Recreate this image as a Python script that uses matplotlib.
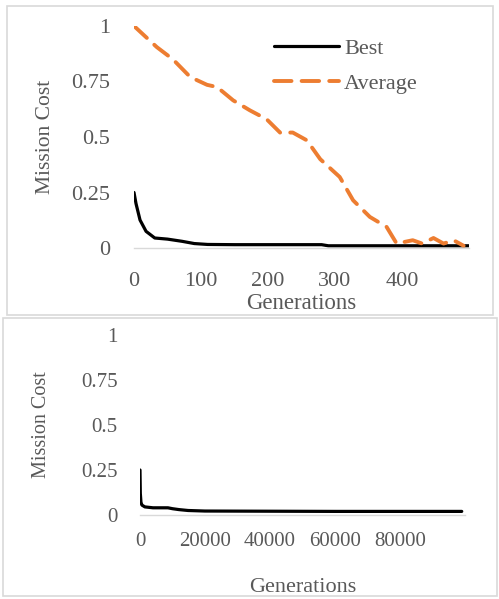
import matplotlib.pyplot as plt
from matplotlib.patches import Rectangle

plt.rcParams['font.family'] = ['Liberation Serif', 'DejaVu Serif']

# top panel: first 500 generations
gen_best = [0, 3, 9, 18, 31, 50, 72, 90, 110, 150, 200, 280, 290, 400, 500]
best = [0.25, 0.20, 0.126, 0.075, 0.045, 0.04, 0.03, 0.02, 0.016, 0.015, 0.015, 0.015, 0.01, 0.01, 0.01]

gen_avg = [0, 34, 58, 84, 109, 124, 148, 173, 198, 218, 237, 258, 278, 307, 327,
           352, 377, 392, 416, 430, 447, 462, 477, 492]
avg = [1.0, 0.905, 0.85, 0.77, 0.735, 0.725, 0.665, 0.62, 0.58, 0.52, 0.52, 0.485,
       0.40, 0.32, 0.215, 0.14, 0.095, 0.02, 0.035, 0.02, 0.045, 0.02, 0.035, 0.01]

# bottom panel: full run
gen_long = [0, 100, 300, 600, 1500, 4000, 8600, 10000, 12000, 14800, 20000, 60000, 99000]
best_long = [0.25, 0.12, 0.07, 0.055, 0.045, 0.04, 0.04, 0.035, 0.03, 0.025, 0.022, 0.02, 0.02]

TXT = '#595959'
GRID = '#d9d9d9'
ORANGE = '#ED7D31'

fig = plt.figure(figsize=(4.99, 5.99), dpi=100)

# panel borders
fig.patches.append(Rectangle((7 / 499, 1 - 315 / 599), 486 / 499, 309 / 599,
                             transform=fig.transFigure, fill=False, ec=GRID, lw=1.2))
fig.patches.append(Rectangle((3 / 499, 1 - 596 / 599), 494 / 499, 278 / 599,
                             transform=fig.transFigure, fill=False, ec=GRID, lw=1.2))


def style(ax, fs):
    for s in ['top', 'right', 'left']:
        ax.spines[s].set_visible(False)
    ax.spines['bottom'].set_color(GRID)
    ax.spines['bottom'].set_linewidth(1)
    ax.tick_params(length=0, colors=TXT, labelsize=fs)
    ax.set_ylim(0, 1)
    ax.set_yticks([0, 0.25, 0.5, 0.75, 1])
    ax.set_yticklabels(['0', '0.25', '0.5', '0.75', '1'])


# ---- top chart ----
ax1 = fig.add_axes([134 / 499, 1 - 248 / 599, 335 / 499, 222 / 599])
ax1.plot(gen_best, best, color='black', lw=2.3, label='Best', solid_capstyle='round')
ax1.plot(gen_avg, avg, color=ORANGE, lw=2.8, label='Average',
         linestyle=(0, (4.5, 2.6)), dash_capstyle='round')
ax1.set_xlim(0, 500)
ax1.set_xticks([0, 100, 200, 300, 400])
style(ax1, 16)
ax1.tick_params(axis='x', pad=17)
ax1.tick_params(axis='y', pad=17)
ax1.set_xlabel('Generations', color=TXT, fontsize=16.5, labelpad=1.5)
ax1.set_ylabel('Mission Cost', color=TXT, fontsize=15.5, labelpad=12)
leg = ax1.legend(loc='center', bbox_to_anchor=(346 / 499, 1 - 66 / 599),
                 bbox_transform=fig.transFigure, frameon=False, fontsize=16,
                 handlelength=2.9, handletextpad=0.25, labelspacing=0.65)
for t in leg.get_texts():
    t.set_color(TXT)

# ---- bottom chart ----
ax2 = fig.add_axes([140 / 499, 1 - 515 / 599, 325 / 499, 180 / 599])
ax2.plot(gen_long, best_long, color='black', lw=2.3, solid_capstyle='round')
ax2.set_xlim(0, 100000)
ax2.set_xticks([0, 20000, 40000, 60000, 80000])
ax2.set_xticklabels(['0', '20000', '40000', '60000', '80000'])
style(ax2, 15)
ax2.tick_params(axis='x', pad=12)
ax2.tick_params(axis='y', pad=16)
ax2.set_xlabel('Generations', color=TXT, fontsize=16, labelpad=20)
ax2.set_ylabel('Mission Cost', color=TXT, fontsize=14.5, labelpad=22)

fig.savefig('out.png', dpi=100)
